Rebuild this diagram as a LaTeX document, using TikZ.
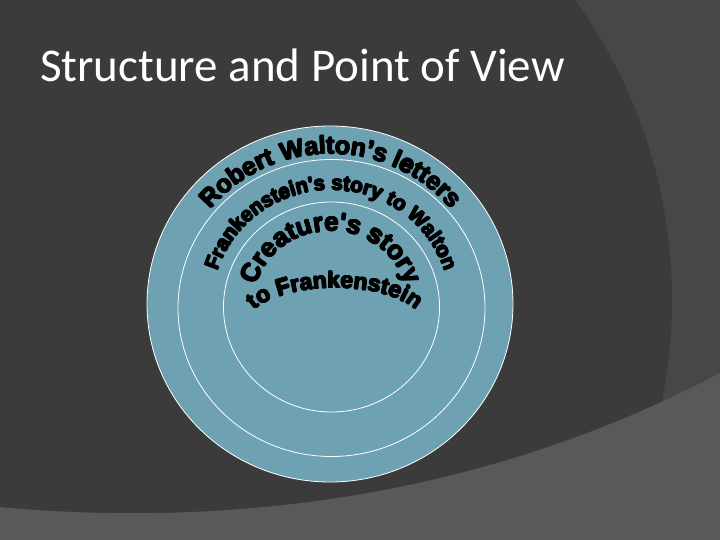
\documentclass[tikz,border=0pt]{standalone}
\usepackage{fontspec}
\setmainfont{Carlito}
\newfontfamily\titlefont{Carlito}
\newfontfamily\wafont{Liberation Sans}[UprightFont={* Bold}, Ligatures=TeXOff]
\usetikzlibrary{decorations.text}
\definecolor{bgdark}{RGB}{59,59,59}
\definecolor{bgmid}{RGB}{71,71,71}
\definecolor{bglight}{RGB}{89,89,89}
\definecolor{discblue}{RGB}{110,162,178}
\begin{document}
\begin{tikzpicture}[x=1pt,y=1pt,
  ringline/.style={draw=white, line width=0.8pt},
  arctext/.style={decorate, decoration={text along path, text align=center, text color=black}}]
\useasboundingbox (0,0) rectangle (720,-540);
\fill[bgmid] (0,0) rectangle (720,-540);
\begin{scope}
  \clip (0,0) rectangle (720,-540);
  \fill[bgdark] (160,-300) circle[radius=512];
  \fill[bglight] (-2,-507) .. controls (250,-530) and (500,-490) .. (722,-372) -- (725,-545) -- (-5,-545) -- cycle;
\end{scope}
\node[anchor=base west, text=white, font=\titlefont\fontsize{47}{47}\selectfont, inner sep=0pt] (title) at (40,-82) {Structure and Point of View};
% discs
\draw[ringline, fill=discblue] (330,-304) ellipse[x radius=183, y radius=178];
\draw[ringline] (331.5,-308) ellipse[x radius=153.5, y radius=148.5];
\draw[ringline] (331.5,-307) ellipse[x radius=108, y radius=105];
% curved texts (drawn with tiny offsets for an extra-heavy weight)
\foreach \ang in {0,60,...,300}{
\begin{scope}[shift={(\ang:0.7)}]
\path[arctext, decoration={text={|\wafont\fontsize{25}{25}\selectfont|Robert Walton’s letters}}]
  (331,-306) ++(165:156 and 152) arc[start angle=165, end angle=15, x radius=156, y radius=152];
\path[arctext, decoration={text={|\wafont\fontsize{20.5}{20.5}\selectfont|Frankenstein's story to Walton}}]
  (331,-306) ++(178:119 and 116) arc[start angle=178, end angle=2, x radius=119, y radius=116];
\path[arctext, decoration={text={|\wafont\fontsize{26}{26}\selectfont|Creature's story}}]
  (331,-306) ++(175:78 and 75) arc[start angle=175, end angle=5, x radius=78, y radius=75];
\path[arctext, decoration={text={|\wafont\fontsize{23}{23}\selectfont|to Frankenstein}}]
  (335,-326) ++(178:89 and 38) arc[start angle=178, end angle=2, x radius=89, y radius=38];
\end{scope}
}
\end{tikzpicture}
\end{document}
